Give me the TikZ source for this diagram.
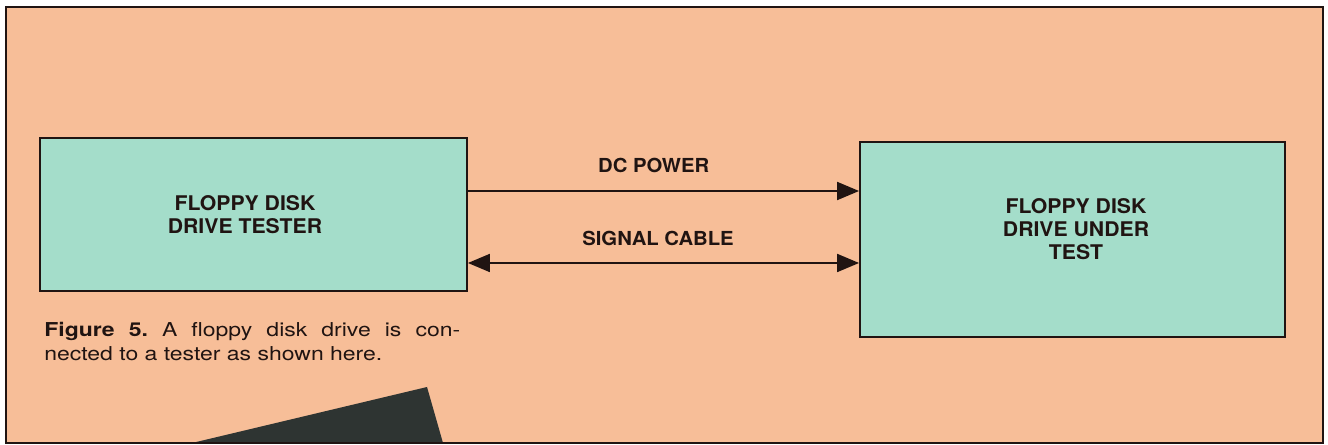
\documentclass[tikz,border=0pt]{standalone}
\usepackage{fontspec}
\newfontfamily\figfont[FakeStretch=1.05]{TeX Gyre Heros}
\newfontfamily\notefont[FakeStretch=1.2]{TeX Gyre Heros}
\usetikzlibrary{arrows.meta,positioning}
\definecolor{paper}{RGB}{247,190,152}
\definecolor{unitfill}{RGB}{164,221,202}
\definecolor{ink}{RGB}{32,20,18}
\definecolor{wedgegray}{RGB}{46,52,50}
\begin{document}
\begin{tikzpicture}[x=0.02cm, y=-0.02cm, font=\figfont, >={Triangle[length=0.44cm, width=0.36cm]}]
        \tikzset{
            frame/.style={draw=ink, line width=1.4pt},
            unitbox/.style={draw=ink, fill=unitfill, line width=1.1pt, inner sep=0pt},
            unitlabel/.style={font=\figfont\bfseries\fontsize{11.5}{13.2}\selectfont, text=ink, align=center, inner sep=0pt},
            wire/.style={draw=ink, line width=1.1pt},
            wirelabel/.style={font=\figfont\bfseries\fontsize{11}{13}\selectfont, text=ink, inner sep=0pt},
            caption/.style={font=\notefont\fontsize{10.9}{13.6}\selectfont\frenchspacing, text=ink, text width=8.32cm, align=justify, inner sep=0pt}
        }

        \useasboundingbox (0,0) rectangle (1328,445);
        \fill[paper] (6,7) rectangle (1323,443);
        \fill[wedgegray] (427,387) -- (443,443) -- (192,443) -- cycle;
        \draw[frame] (6,7) rectangle (1323,443);

        \node[unitbox, minimum width=8.54cm, minimum height=3.06cm] (tester) at (253.5,214.5) {};
        \node[unitlabel] (testerlabel) at ([xshift=-0.17cm]tester.center) {FLOPPY DISK\\DRIVE TESTER};

        \node[unitbox, minimum width=8.5cm, minimum height=3.9cm] (dut) at (1072.5,239.5) {};
        \node[unitlabel] (dutlabel) at ([xshift=0.07cm, yshift=0.21cm]dut.center) {FLOPPY DISK\\DRIVE UNDER\\TEST};

        \draw[wire, ->] ([yshift=0.47cm]tester.east) -- node[wirelabel, above=0.34cm, pos=0.475] (power) {DC POWER} ([yshift=0.47cm]tester.east -| dut.west);
        \draw[wire, <->] ([yshift=-0.97cm]tester.east) -- node[wirelabel, above=0.32cm, pos=0.486] (signal) {SIGNAL CABLE} ([yshift=-0.97cm]tester.east -| dut.west);

        \node[caption, anchor=north west] (note) at (44,322) {\textbf{Figure 5.} A floppy disk drive is con-\linebreak nected to a tester as shown here.};
    \end{tikzpicture}
\end{document}
